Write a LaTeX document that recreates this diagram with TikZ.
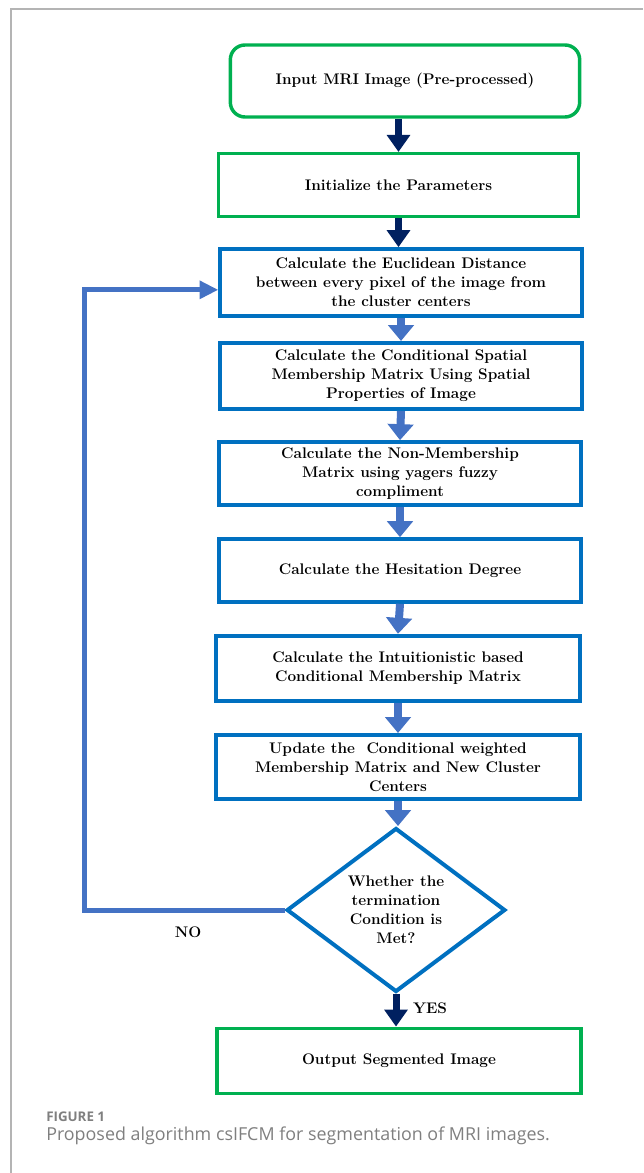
\documentclass[tikz,border=0pt]{standalone}
\usepackage{fontspec}
\newfontfamily\capfont{Open Sans}
\usetikzlibrary{arrows.meta,shapes.geometric,positioning}
\definecolor{boxgreen}{HTML}{00B050}
\definecolor{boxblue}{HTML}{0070C0}
\definecolor{flowblue}{HTML}{4472C4}
\definecolor{navyarrow}{HTML}{002060}
\definecolor{framegray}{HTML}{B4B4B4}
\definecolor{capgray}{HTML}{7F7F7F}

\begin{document}
\begin{tikzpicture}[x=0.75pt,y=-0.75pt]
\tikzstyle{every node}+=[inner sep=0pt,align=center,font=\bfseries\fontsize{11.5}{14.2}\selectfont]
\tikzstyle{greenbox}=[draw=boxgreen,line width=2.6pt,minimum width=270pt]
\tikzstyle{bluebox}=[draw=boxblue,line width=3pt,minimum width=271pt]
\tikzstyle{navyflow}=[draw=navyarrow,line width=5.25pt,-{Triangle[length=12.75pt,width=17pt]}]
\tikzstyle{blueflow}=[draw=flowblue,line width=6pt,-{Triangle[length=12pt,width=19pt]}]
\tikzstyle{loopflow}=[draw=flowblue,line width=3.75pt,-{Triangle[length=14pt,width=13pt]}]
\useasboundingbox (0,0) rectangle (643,1173);
% frame of the figure panel
\draw [framegray,line width=1.5pt] (11,1173) -- (11,9) -- (643,9);
% boxes
\node [greenbox,rounded corners=11pt,minimum width=262pt,minimum height=54pt] (input) at (405,81) {Input MRI Image (Pre-processed)};
\node [greenbox,minimum height=47pt] (init) at (398.5,185) {Initialize the Parameters};
\node [bluebox,minimum height=50pt] (dist) at (401,282.5) {Calculate the Euclidean Distance\\between every pixel of the image from\\the cluster centers};
\node [bluebox,minimum height=49.5pt] (spatial) at (401,376) {Calculate the Conditional Spatial\\Membership Matrix Using Spatial\\Properties of Image};
\node [bluebox,minimum height=47pt] (nonmem) at (400,473.5) {Calculate the Non-Membership\\Matrix using yagers fuzzy\\compliment};
\node [bluebox,minimum height=47pt] (hesit) at (400,570.5) {Calculate the Hesitation Degree};
\node [bluebox,minimum height=49pt,minimum width=273pt] (intuit) at (398,668.5) {Calculate the Intuitionistic based\\Conditional Membership Matrix};
\node [bluebox,minimum height=48pt,minimum width=273pt] (update) at (398,767) {Update the\ \ Conditional weighted\\Membership Matrix and New Cluster\\Centers};
\node [diamond,draw=boxblue,line width=3pt,minimum width=164pt,minimum height=117pt] (stop) at (396,910) {Whether the\\termination\\Condition is\\Met?};
\node [greenbox,minimum width=273pt,minimum height=49pt] (output) at (399,1061) {Output Segmented Image};
% connectors
\draw [navyflow] (input.south -| init.north) -- (init.north);
\draw [navyflow] (init.south) -- (init.south |- dist.north);
\draw [blueflow] (dist.south) -- (spatial.north);
\draw [blueflow] (spatial.south) -- (nonmem.north);
\draw [blueflow] (nonmem.south) -- (hesit.north);
\draw [blueflow] (hesit.south) -- (intuit.north);
\draw [blueflow] (intuit.south) -- (update.north);
\draw [blueflow] (update.south) -- (update.south |- stop.north);
\draw [navyflow] (stop.south) -- (stop.south |- output.north);
\coordinate (loopleft) at (84,600);
\coordinate (distin) at ([yshift=-5.5pt]dist.west);
\draw [loopflow] (stop.west) -- (stop.west -| loopleft) -- (loopleft |- distin) -- (distin);
\node (no) at (188,932) {NO};
\node (yes) at (430,1008) {YES};
% caption
\node [anchor=base west,font=\capfont\bfseries\fontsize{10}{12}\selectfont,text=capgray] (fig) at (46,1121) {FIGURE 1};
\node [anchor=base west,font=\capfont\fontsize{13.4}{16}\selectfont,text=capgray] (caption) at (46,1140) {Proposed algorithm csIFCM for segmentation of MRI images.};
\end{tikzpicture}
\end{document}
